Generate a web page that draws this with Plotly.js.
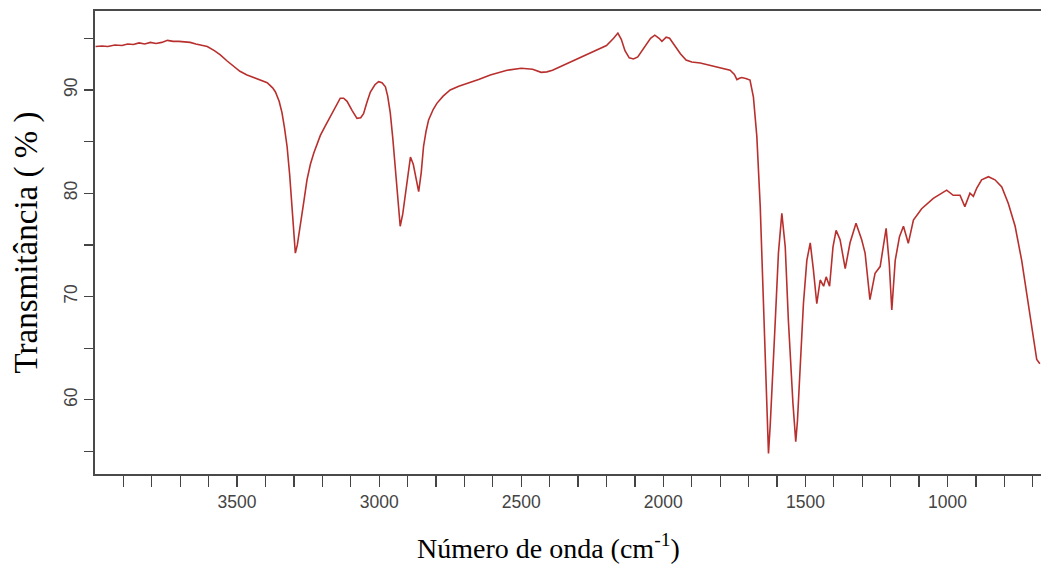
<!DOCTYPE html>
<html>
<head>
<meta charset="utf-8">
<script src="https://cdn.plot.ly/plotly-3.0.1.min.js"></script>
<style>html,body{margin:0;padding:0;background:#fff;}#chart{width:1041px;height:564px;}</style>
</head>
<body>
<div id="chart"></div>
<script>
// Wavenumber (cm-1), descending
const wavenumber = [3998,3975,3955,3930,3905,3885,3865,3845,3825,3805,3785,3765,3745,3725,3705,3685,3665,3645,3625,3605,
3580,3559,3535,3512,3490,3465,3440,3418,3394,3375,3365,3352,3342,3333,3324,3315,3307,3300,3295,3288,3277,3265,3254,3242,3230,
3218,3207,3190,3172,3155,3137,3125,3113,3095,3078,3065,3055,3043,3031,3015,3002,2990,2978,2970,2961,2952,2943,2935,2926,2917,
2908,2898,2890,2880,2872,2861,2852,2844,2835,2826,2810,2797,2775,2750,2720,2691,2650,2609,2550,2500,2460,2430,2410,2390,2350,
2300,2250,2200,2175,2160,2148,2135,2120,2105,2090,2070,2045,2030,2015,2005,1990,1978,1960,1940,1920,1900,1870,1840,1800,1765,
1750,1741,1730,1724,1710,1695,1683,1671,1659,1648,1636,1630,1624,1618,1606,1595,1583,1571,1560,1544,1534,1528,1522,1507,1495,
1483,1472,1460,1448,1436,1427,1415,1403,1392,1378,1360,1343,1322,1302,1290,1273,1255,1237,1216,1205,1196,1184,1169,1155,1138,
1120,1091,1050,1003,980,956,939,921,909,897,880,856,833,809,786,762,739,715,698,686,675];
// Transmittance (%)
const transmittance = [94.2,94.25,94.2,94.35,94.3,94.45,94.4,94.55,94.45,94.6,94.5,94.6,94.8,94.7,94.7,94.65,94.6,94.45,94.35,94.2,
93.8,93.4,92.8,92.25,91.8,91.45,91.2,90.95,90.7,90.2,89.8,88.9,87.8,86.3,84.5,81.8,78.7,76.2,74.2,75.0,76.8,79.2,81.3,82.8,83.9,
84.8,85.6,86.5,87.4,88.4,89.2,89.2,88.9,88.0,87.25,87.3,87.7,88.8,89.8,90.5,90.8,90.7,90.3,89.4,87.8,85.3,82.2,79.2,76.8,78.0,
80.0,82.2,83.5,82.8,81.6,80.15,82.0,84.5,86.0,87.1,88.1,88.7,89.4,90.0,90.35,90.6,91.0,91.45,91.9,92.1,92.0,91.7,91.75,91.9,92.4,
93.0,93.6,94.3,95.0,95.5,94.9,93.8,93.1,93.0,93.2,94.0,95.0,95.3,95.0,94.7,95.1,95.0,94.3,93.5,92.9,92.7,92.6,92.4,92.2,91.9,
91.5,91.0,91.15,91.2,91.1,90.95,89.3,85.5,78.7,69.3,58.05,54.8,57.5,61.3,67.7,74.2,78.05,74.8,67.7,59.7,55.95,58.0,61.3,69.3,73.5,
75.2,72.6,69.3,71.6,71.0,71.9,71.0,74.8,76.4,75.5,72.7,75.2,77.1,75.5,74.2,69.7,72.25,72.9,76.6,73.2,68.7,73.5,75.8,76.8,75.15,
77.4,78.5,79.5,80.3,79.8,79.8,78.7,80.0,79.7,80.5,81.3,81.6,81.3,80.6,79.0,76.8,73.5,69.3,66.1,63.9,63.5];

const xTickVals = [3900,3800,3700,3600,3500,3400,3300,3200,3100,3000,2900,2800,2700,2600,2500,2400,2300,2200,2100,2000,1900,1800,1700,1600,1500,1400,1300,1200,1100,1000,900,800,700];
const xTickText = xTickVals.map(v => (v % 500 === 0 ? String(v) : ' '));
const yTickVals = [55,60,65,70,75,80,85,90,95];
const yTickText = [' ', '60', ' ', '70', ' ', '80', ' ', '90', ' '];

const xTitle = 'Número de onda (cm<sup>-1</sup>)';
const yTitle = 'Transmitância ( % )';

const trace = {
  x: wavenumber, y: transmittance, type: 'scatter', mode: 'lines',
  line: {color: '#b8302e', width: 1.6}, hoverinfo: 'skip'
};

const layout = {
  width: 1041, height: 564,
  margin: {l: 95, r: 0, t: 11, b: 90},
  paper_bgcolor: '#ffffff', plot_bgcolor: '#ffffff',
  showlegend: false,
  xaxis: {
    range: [4000, 671], showgrid: false, zeroline: false,
    showline: true, linecolor: '#4a4a4a', linewidth: 1.8, mirror: true,
    ticks: 'outside', ticklen: 11, tickwidth: 1.3, tickcolor: '#444',
    tickmode: 'array', tickvals: xTickVals, ticktext: xTickText,
    tickfont: {family: 'Liberation Sans, Arial, sans-serif', size: 17.5, color: '#444'}
  },
  yaxis: {
    range: [52.82, 97.64], showgrid: false, zeroline: false,
    showline: true, linecolor: '#4a4a4a', linewidth: 1.8,
    ticks: 'outside', ticklen: 9, tickwidth: 1.3, tickcolor: '#444',
    tickmode: 'array', tickvals: yTickVals, ticktext: yTickText, tickangle: -90,
    tickfont: {family: 'Liberation Sans, Arial, sans-serif', size: 17.5, color: '#444'},
    title: {text: yTitle, standoff: 14, font: {family: 'Liberation Serif, Times New Roman, serif', size: 33, color: '#000'}}
  },
  annotations: [{
    text: xTitle, xref: 'paper', yref: 'paper', x: (548 - 95) / (1041 - 95), y: 0,
    yshift: -72, xanchor: 'center', yanchor: 'middle', showarrow: false,
    font: {family: 'Liberation Serif, Times New Roman, serif', size: 28, color: '#000'}
  }]
};

Plotly.newPlot('chart', [trace], layout, {displayModeBar: false, staticPlot: true});
</script>
</body>
</html>
